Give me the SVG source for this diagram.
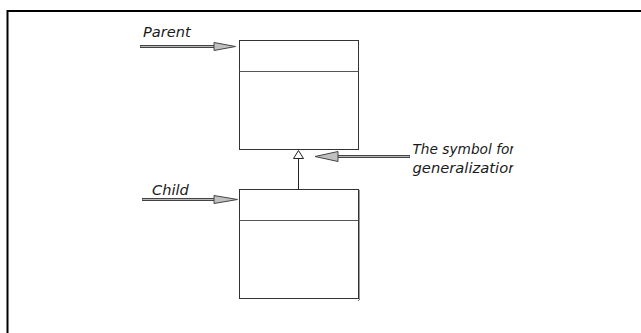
<svg xmlns="http://www.w3.org/2000/svg" width="641" height="333" viewBox="0 0 641 333">
  <style>
    .frame { fill: none; stroke: #000; stroke-width: 2; }
    .box { fill: #fff; stroke: #333; stroke-width: 1; }
    .divider { stroke: #555; stroke-width: 1; }
    .shaft-outer { stroke: #444; stroke-width: 3; fill: none; }
    .shaft-inner { stroke: #b8b8b8; stroke-width: 1; fill: none; }
    .head { fill: #c0c0c0; stroke: #444; stroke-width: 1; stroke-linejoin: miter; }
    .gen { fill: #fff; stroke: #222; stroke-width: 1; }
    .line { stroke: #222; stroke-width: 1; fill: none; }
    .label { font-family: "DejaVu Sans", Verdana, sans-serif; font-style: italic; font-size: 14.6px; fill: #1a1a1a; }
  </style>
  <defs>
    <clipPath id="noteClip">
      <rect x="400" y="130" width="113.5" height="60"/>
    </clipPath>
  </defs>

  <rect width="641" height="333" fill="#fff"/>

  <!-- outer frame: top and left edges only -->
  <path class="frame" d="M7.5 333 V11 H641"/>

  <!-- Parent class -->
  <g id="parent">
    <rect class="box" x="239.5" y="40.5" width="119" height="109"/>
    <line class="divider" x1="239.5" y1="71.5" x2="358.5" y2="71.5"/>
  </g>

  <!-- Child class -->
  <g id="child">
    <rect class="box" x="239.5" y="189.5" width="119" height="109"/>
    <line class="divider" x1="239.5" y1="220.5" x2="358.5" y2="220.5"/>
    <line x1="359.5" y1="190" x2="359.5" y2="299" stroke="#999" stroke-width="1"/>
    <line x1="360" y1="299" x2="358" y2="301" stroke="#666" stroke-width="1"/>
  </g>

  <!-- labels -->
  <g id="parent-label">
    <text class="label" x="143" y="37">Parent</text>
  </g>
  <g id="child-label">
    <text class="label" x="152" y="195">Child</text>
  </g>
  <g id="note">
    <g clip-path="url(#noteClip)">
      <text class="label" x="412.5" y="154" textLength="102.5" lengthAdjust="spacingAndGlyphs">The symbol for</text>
      <text class="label" x="412.5" y="172.5" textLength="105" lengthAdjust="spacingAndGlyphs">generalization</text>
    </g>
  </g>

  <!-- connectors -->
  <g id="connectors">
    <!-- generalization: child to parent with hollow triangle -->
    <line class="line" x1="298.5" y1="158.5" x2="298.5" y2="189.5"/>
    <polygon class="gen" points="298.5,150.5 293.5,158.5 303.5,158.5"/>

    <!-- pointer to Parent -->
    <line class="shaft-outer" x1="140" y1="46.5" x2="214" y2="46.5"/>
    <line class="shaft-inner" x1="140.5" y1="46.5" x2="214" y2="46.5"/>
    <polygon class="head" points="214,42.5 235.5,46.5 214,50.5"/>

    <!-- pointer to Child -->
    <line class="shaft-outer" x1="142" y1="199.5" x2="214" y2="199.5"/>
    <line class="shaft-inner" x1="142.5" y1="199.5" x2="214" y2="199.5"/>
    <polygon class="head" points="214,195.5 237.5,199.5 214,203.5"/>

    <!-- pointer to generalization symbol -->
    <line class="shaft-outer" x1="338" y1="156.5" x2="410" y2="156.5"/>
    <line class="shaft-inner" x1="338" y1="156.5" x2="409.5" y2="156.5"/>
    <polygon class="head" points="338,151.5 315,156.5 338,161.5"/>
  </g>
</svg>
